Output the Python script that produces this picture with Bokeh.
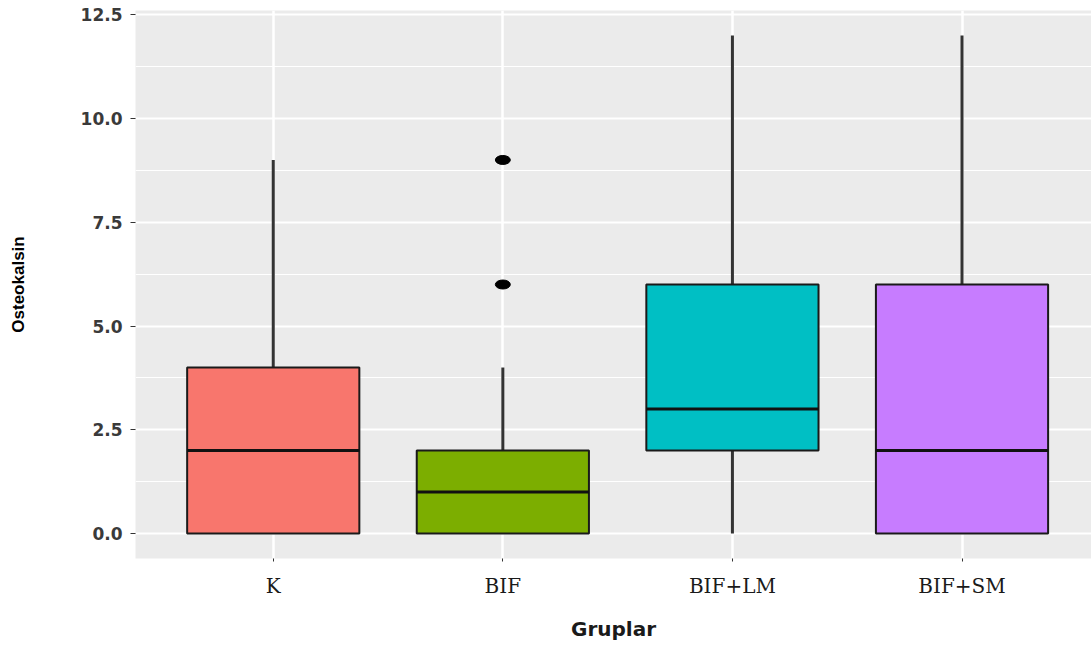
from bokeh.plotting import figure
from bokeh.models import Range1d, FixedTicker, ColumnDataSource, NumeralTickFormatter
from bokeh.embed import file_html
from bokeh.resources import INLINE

groups = ["K", "BIF", "BIF+LM", "BIF+SM"]
lower = [0, 0, 0, 0]
q1 = [0, 0, 2, 0]
median = [2, 1, 3, 2]
q3 = [4, 2, 6, 6]
upper = [9, 4, 12, 12]
colors = ["#F8766D", "#7CAE00", "#00BFC4", "#C77CFF"]
outlier_group = ["BIF", "BIF"]
outlier_value = [6, 9]
y_ticks = [0, 2.5, 5, 7.5, 10, 12.5]
y_minor = [1.25, 3.75, 6.25, 8.75, 11.25]

pos = list(range(1, len(groups) + 1))
box_w = 0.75

src = ColumnDataSource(dict(
    x=pos, lower=lower, q1=q1, med=median, q3=q3, upper=upper, color=colors,
    x0=[p - box_w / 2 for p in pos], x1=[p + box_w / 2 for p in pos],
))
osrc = ColumnDataSource(dict(
    x=[pos[groups.index(g)] for g in outlier_group], y=outlier_value,
))

p = figure(width=1091, height=648, output_backend="svg", toolbar_location=None,
           x_range=Range1d(0.4, 4.564), y_range=Range1d(-0.6, 12.6),
           min_border_left=135, min_border_top=10, min_border_bottom=90, min_border_right=0)
p.outline_line_color = None
p.background_fill_color = "#EBEBEB"
p.border_fill_color = "white"

# grids
p.ygrid.ticker = FixedTicker(ticks=y_ticks, minor_ticks=y_minor)
p.ygrid.grid_line_color = "white"
p.ygrid.grid_line_width = 2
p.ygrid.minor_grid_line_color = "white"
p.ygrid.minor_grid_line_width = 1
p.xgrid.ticker = FixedTicker(ticks=pos)
p.xgrid.grid_line_color = "white"
p.xgrid.grid_line_width = 2.5

# whiskers
p.segment(x0="x", y0="q3", x1="x", y1="upper", source=src, line_color="#333333", line_width=3)
p.segment(x0="x", y0="lower", x1="x", y1="q1", source=src, line_color="#333333", line_width=3)
# boxes
p.vbar(x="x", width=box_w, bottom="q1", top="q3", source=src, fill_color="color",
       line_color="#1a1a1a", line_width=2)
# medians
p.segment(x0="x0", y0="med", x1="x1", y1="med", source=src, line_color="#111111", line_width=3)
# outliers
p.ellipse(x="x", y="y", width=15, height=9, width_units="screen", height_units="screen",
          source=osrc, fill_color="black", line_color="black")

# y axis
ya = p.yaxis[0]
ya.ticker = FixedTicker(ticks=y_ticks)
ya.formatter = NumeralTickFormatter(format="0.0")
ya.axis_line_color = None
ya.major_tick_line_color = "#333333"
ya.major_tick_out = 5
ya.major_tick_in = 0
ya.minor_tick_line_color = None
ya.major_label_standoff = 8
ya.major_label_text_font = "DejaVu Sans"
ya.major_label_text_font_style = "bold"
ya.major_label_text_font_size = "17px"
ya.major_label_text_color = "#3a3a3a"
ya.axis_label = "Osteokalsin"
ya.axis_label_text_font = "Liberation Sans"
ya.axis_label_text_font_style = "bold"
ya.axis_label_text_font_size = "17px"
ya.axis_label_text_color = "black"
ya.axis_label_standoff = 50

# x axis
xa = p.xaxis[0]
xa.ticker = FixedTicker(ticks=pos)
xa.major_label_overrides = {k: g for k, g in zip(pos, groups)}
xa.axis_line_color = None
xa.major_tick_line_color = "#333333"
xa.major_tick_out = 3
xa.major_tick_in = 0
xa.minor_tick_line_color = None
xa.major_label_standoff = 12
xa.major_label_text_font = "DejaVu Serif"
xa.major_label_text_font_size = "20px"
xa.major_label_text_color = "#1a1a1a"
xa.axis_label = "Gruplar"
xa.axis_label_text_font = "DejaVu Sans"
xa.axis_label_text_font_style = "bold"
xa.axis_label_text_font_size = "20px"
xa.axis_label_text_color = "#1a1a1a"
xa.axis_label_standoff = 16

open("out.html", "w").write(file_html(p, INLINE))
